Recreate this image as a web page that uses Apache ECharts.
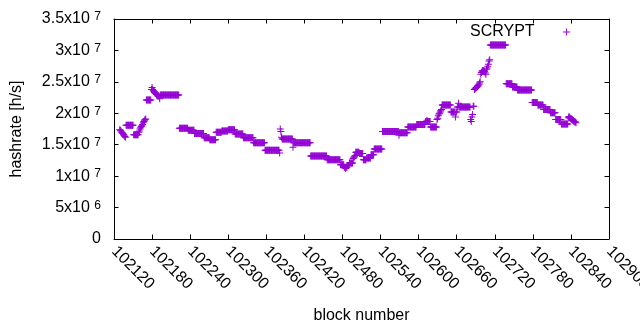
<!DOCTYPE html>
<html><head><meta charset="utf-8">
<script src="https://cdn.jsdelivr.net/npm/echarts@6/dist/echarts.min.js"></script>
<style>html,body{margin:0;padding:0;background:#fff}#c{width:640px;height:330px}</style>
</head><body><div id="c"></div>
<script>
// ---- data (hashrate in units of 1e7 h/s, one value per block) ----
const seriesName = 'SCRYPT';
const xMin = 102120, xMax = 102900, xStep = 60;
const yMin = 0, yMax = 3.5e7, yStep = 5e6;
const valueUnit = 1e7;

const segAStart = 102129;
const segA = [1.74,1.73,1.72,1.70,1.69,1.68,1.66,1.65,1.63,1.62,
  1.81,1.81,1.81,1.81,1.81,1.81,1.81,1.81,1.81,1.81,1.81,1.81,
  1.66,1.66,1.66,1.66,1.66,1.66,1.66,1.66,
  1.70,1.72,1.75,1.77,1.79,1.80,1.82,1.85,1.87,1.88,1.90,1.91,
  2.21,2.21,2.21,2.21,2.21,2.21,2.21,2.21,
  2.38,2.41,2.38,2.36,2.35,2.34,2.32,2.31,2.30,2.29,2.28,2.28,2.27,2.23];

const segBStart = 102193;
const segB = [2.29,2.29,2.29,2.29,2.29,2.29,2.29,2.29,2.29,2.29,
  2.29,2.29,2.29,2.29,2.29,2.29,2.29,2.29,2.29,2.29,
  2.29,2.29,2.29,2.29,2.29,2.29,2.29,2.29,2.29,2.29,
  1.76,1.76,1.76,1.76,1.76,1.76,1.76,1.76,1.76,1.76,1.76,1.76,1.76,1.76,
  1.73,1.73,1.73,1.73,1.73,1.73,1.73,1.73,1.73,1.73,
  1.68,1.68,1.68,1.68,1.68,1.68,1.68,1.68,1.68,1.68,1.68,1.68,1.68,1.68,1.68,
  1.61,1.61,1.61,1.61,1.61,1.61,1.61,1.61,1.61,
  1.58,1.58,1.58,1.58,1.58,1.58,1.58,1.58,1.58,1.58];

const segCStart = 102281;
const segC = [1.70,1.70,1.70,1.70,1.70,1.70,1.70,1.70,1.70,
  1.72,1.72,1.72,1.72,1.72,1.72,1.72,1.72,1.72,1.72,
  1.74,1.74,1.74,1.74,1.74,1.74,1.74,1.74,1.74,1.74,1.74,
  1.67,1.67,1.67,1.67,1.67,1.67,1.67,1.67,1.67,1.67,1.67,1.67,1.67,
  1.61,1.61,1.61,1.61,1.61,1.61,1.61,1.61,1.61,1.61,1.61,1.61,1.61,1.61,1.61,1.61,
  1.53,1.53,1.53,1.53,1.53,1.53,1.53,1.53,1.53,1.53,1.53,1.53,1.53,1.53,1.53,1.53,1.53,1.53,
  1.41,1.41,1.41,1.41,1.41,1.41,1.41,1.41,1.41,1.41,1.41,1.41,
  1.41,1.41,1.41,1.41,1.41,1.41,1.41,1.41,1.41,1.41,1.41,
  1.37,1.75,1.71,1.62,
  1.59,1.59,1.59,1.59,1.59,1.59,1.59,1.59,1.59,1.59,1.59,1.59,1.59,1.59,1.59,1.59,1.59,
  1.46];

const segDStart = 102403;
const segD = [1.53,1.53,1.53,1.53,1.53,1.53,1.53,1.53,1.53,1.53,
  1.53,1.53,1.53,1.53,1.53,1.53,1.53,1.53,1.53,1.53,
  1.53,1.53,1.53,1.53,1.53,1.53,1.53,
  1.32,1.32,1.32,1.32,1.32,1.32,1.32,1.32,1.32,1.32,
  1.32,1.32,1.32,1.32,1.32,1.32,1.32,1.32,1.32,1.32,
  1.32,1.32,1.32,1.32,1.32,1.32,
  1.26,1.26,1.26,1.26,1.26,1.26,1.26,1.26,1.26,1.26,
  1.26,1.26,1.26,1.26,1.26,1.26,1.26,1.26,1.26,1.26,1.26,
  1.18,1.18,1.18,1.18,1.18,1.18,
  1.14,1.14,1.12,1.14,1.14,
  1.17,1.17,1.17,
  1.21,1.21,1.21,1.21,1.21,1.21,
  1.28,1.30,1.31,1.33,
  1.38,1.38,1.38,1.38,1.38,1.38,
  1.36,1.36,1.36,1.36,1.36,1.36,
  1.26,1.26,1.26,1.26,1.26,
  1.29,1.29,1.29,1.29,1.29,1.29,1.29,
  1.34,1.34,1.34,1.34,1.34,
  1.43,1.43,1.43,1.43,1.43,1.43,1.43,1.43,1.43,1.43,1.43,1.43,1.43];

const segEStart = 102543;
const segE = [1.71,1.71,1.71,1.71,1.71,1.71,1.71,1.71,1.71,1.71,
  1.71,1.71,1.71,1.71,1.71,1.71,1.71,1.71,1.71,1.71,
  1.71,1.71,1.71,1.71,1.71,1.71,
  1.65,
  1.69,1.69,1.69,1.69,1.69,1.69,1.69,1.69,1.69,1.69,1.69,1.69,1.69,
  1.78,1.78,1.78,1.78,1.78,1.78,1.78,1.78,1.78,1.78,1.78,1.78,1.78,1.78,
  1.82,1.82,1.82,1.82,1.82,1.82,1.82,1.82,1.82,1.82,1.82,1.82,1.82,1.82,
  1.87,1.87,1.89,1.87,1.87,1.87,1.87,1.87,
  1.78,1.78,1.78,1.78,1.78,1.78,1.78,1.78,1.78,1.78,
  1.90,1.92,1.96,1.99,2.00,2.02,2.04,2.06];

const segFStart = 102637;
const segF = [2.13,2.13,2.13,2.13,2.13,2.13,2.13,2.13,2.13,2.13,2.13,2.13,2.13,2.13,
  2.02,2.02,2.02,2.02,2.02,2.02,2.02,
  1.94,
  2.02,2.02,
  2.10,2.10,2.16,2.10,2.10,2.10,2.10,2.10,2.10,2.10,
  2.10,2.10,2.10,2.10,2.10,2.10,2.10,2.10,2.10,2.10,2.10,
  1.90,1.87,1.94,1.98,2.11,2.11,2.38,
  2.40,2.40,2.41,2.42,2.43,2.44,2.46,2.48,2.50,
  2.62,2.65,2.67,2.68,2.68,2.67,2.66,2.64,2.62,2.70,2.72,2.75,2.78,2.83,2.85];

const segGStart = 102713;
const segG = [3.085,3.085,3.085,3.085,3.085,3.085,3.085,3.085,3.085,3.085,
  3.085,3.085,3.085,3.085,3.085,3.085,3.085,3.085,3.085,3.085,
  3.085,3.085,3.085,3.085,3.085,
  2.47,2.47,2.47,2.47,2.47,2.47,2.47,2.47,2.47,2.47,
  2.42,2.42,2.42,2.42,2.42,2.42,2.42,2.42,
  2.37,2.37,2.37,2.37,2.37,2.37,2.37,2.37,2.37,2.37,
  2.37,2.37,2.37,2.37,2.37,2.37,2.37,2.37,2.37,2.37,2.37,2.37,2.37,
  2.17,2.17,2.17,2.17,2.17,2.17,2.17,2.17,2.17,
  2.13,2.13,2.13,2.13,2.13,2.13,2.13,2.13,2.13,
  2.06,2.06,2.06,2.06,2.06,2.06,2.06,2.06,2.06,2.06,2.06,
  2.01,2.01,2.01,2.01,2.01,2.01,2.01,2.01,
  1.90,1.90,1.90,1.90,1.90,1.90,1.90,1.90,1.90,
  1.83,1.83,1.83,1.83,1.83,1.83,1.83,1.83,1.83,1.83,1.83,
  1.93,1.95,1.93,1.92,1.91,1.91,1.90,1.89,1.88,1.87,1.86,1.86,1.85];

const segments = [[segAStart, segA],[segBStart, segB],[segCStart, segC],[segDStart, segD],
  [segEStart, segE],[segFStart, segF],[segGStart, segG]];

// ---- build ----
const points = [];
segments.forEach(([start, vals]) => vals.forEach((v, i) => points.push([start + i, v * valueUnit])));

const FONT = 'Liberation Sans';
const PLUS = 'path://M0,3H3V0H4V3H7V4H4V7H3V4H0Z';
const COLOR = '#9400d3';

function fmtY(v) {
  if (v === 0) return '0';
  const e = Math.floor(Math.log10(v) + 1e-9);
  const m = +(v / Math.pow(10, e)).toFixed(2);
  return m + 'x10 {e|' + e + '}';
}

const tickCommon = { inside: true, length: 4.5, lineStyle: { color: '#000', width: 1 } };
const lineCommon = { show: true, onZero: false, lineStyle: { color: '#000', width: 1 } };

const chart = echarts.init(document.getElementById('c'), null, { renderer: 'canvas' });
chart.setOption({
  animation: false,
  backgroundColor: '#fff',
  grid: { left: 114, top: 19, width: 495, height: 220, containLabel: false, outerBoundsMode: 'none' },
  legend: {
    data: [{ name: seriesName, icon: PLUS }],
    left: 470, top: 24, padding: 0, align: 'right',
    itemWidth: 54, itemHeight: 7, selectedMode: false,
    textStyle: { fontFamily: FONT, fontSize: 16, color: '#000' }
  },
  xAxis: [{
    type: 'value', min: xMin, max: xMax, interval: xStep, position: 'bottom',
    name: 'block number', nameLocation: 'middle', nameGap: 69,
    nameTextStyle: { fontFamily: FONT, fontSize: 16, color: '#000' },
    axisLine: lineCommon, axisTick: tickCommon, splitLine: { show: false },
    axisLabel: { rotate: -45, margin: 10, fontFamily: FONT, fontSize: 16, color: '#000',
      showMinLabel: true, showMaxLabel: true, hideOverlap: false, formatter: v => String(v) }
  }, {
    type: 'value', min: xMin, max: xMax, interval: xStep, position: 'top',
    axisLine: lineCommon, axisTick: tickCommon, splitLine: { show: false }, axisLabel: { show: false }
  }],
  yAxis: [{
    type: 'value', min: yMin, max: yMax, interval: yStep, position: 'left',
    name: 'hashrate [h/s]', nameLocation: 'middle', nameGap: 89,
    nameTextStyle: { fontFamily: FONT, fontSize: 16, color: '#000' },
    axisLine: lineCommon, axisTick: tickCommon, splitLine: { show: false },
    axisLabel: { margin: 13, fontFamily: FONT, fontSize: 16, color: '#000', formatter: fmtY,
      rich: {
        e: { fontFamily: FONT, fontSize: 12, color: '#000', verticalAlign: 'top', padding: [0, 0, 4, 0] }
      } }
  }, {
    type: 'value', min: yMin, max: yMax, interval: yStep, position: 'right',
    axisLine: lineCommon, axisTick: tickCommon, splitLine: { show: false }, axisLabel: { show: false }
  }],
  series: [{
    name: seriesName, type: 'scatter', xAxisIndex: 0, yAxisIndex: 0,
    symbol: PLUS, symbolSize: 7, itemStyle: { color: COLOR, opacity: 1 },
    emphasis: { disabled: true }, large: false,
    data: points
  }]
});
</script></body></html>
